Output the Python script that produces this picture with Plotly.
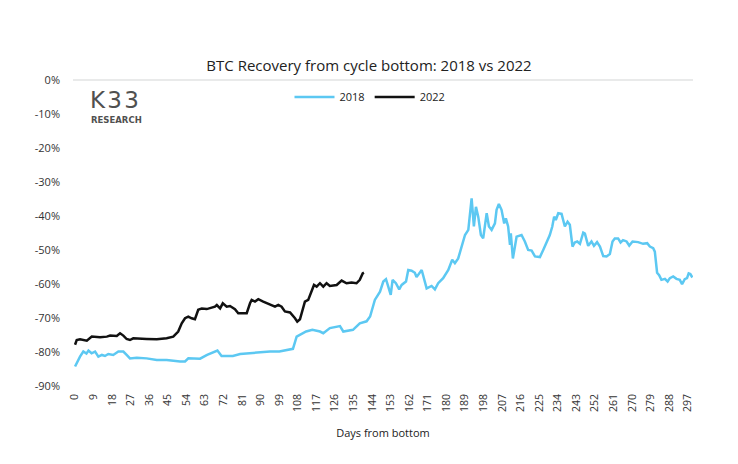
import plotly.graph_objects as go

# ---- data ----
days_2018 = [0, 0.8, 2.4, 4, 5.5, 6.5, 8, 9.7, 11.3, 13, 14.5, 16.1, 18.5, 21, 23.4, 25, 26.6,
             29.9, 34.7, 39.6, 44.4, 50.9, 53.3, 54.9, 60.6, 64, 69, 71, 76.5, 80, 88, 94.5,
             99, 105.6, 107.4, 109, 112, 115, 118.7, 120.3, 123.5, 128.4, 130, 134.7, 138,
             141.3, 143, 145.3, 146.2, 147.8, 149.4, 150.7, 151.8, 153, 153.9, 155.5, 157.1,
             158.3, 160.4, 161.5, 163.1, 164.7, 165.5, 168, 170.4, 172.8, 174.4, 176, 178.4,
             180.9, 182.8, 184.1, 185.7, 187.4, 189, 190.6, 191.4, 192.2, 193.3, 194.3, 195.4,
             196.7, 197.8, 199.5, 200.6, 201.9, 203.5, 204.3, 205.4, 206.7, 208, 208.8, 209.9,
             210.8, 211.2, 212.2, 213.2, 214, 216.4, 218, 219.6, 221.3, 222.9, 225.3, 226.9,
             228.5, 230.1, 231.3, 232.2, 233, 234.2, 235.8, 237.4, 238.7, 239.8, 241.1, 242.2,
             243.4, 244.7, 246.3, 247.1, 248.7, 250.3, 251.5, 253, 254.4, 256, 257.6, 259.2,
             260.5, 261.6, 263.2, 264.4, 265.6, 267.3, 268.6, 270.2, 272.9, 275.3, 277.3,
             278.6, 280.2, 281, 282.1, 283.1, 284.2, 285.9, 287.2, 288.3, 289.9, 291.5, 293.1,
             294.2, 295.5, 296.6, 297.4, 298.2, 299.2]
vals_2018 = [-84.3, -83.3, -81.4, -79.9, -80.5, -79.6, -80.4, -79.9, -81.4, -80.9, -81.2, -80.6,
             -80.9, -79.9, -79.9, -80.9, -81.9, -81.7, -81.9, -82.4, -82.4, -82.8, -82.8, -81.9,
             -82.0, -80.9, -79.6, -81.2, -81.2, -80.6, -80.2, -79.9, -79.9, -79.1, -75.5, -75.0,
             -74.0, -73.5, -74.0, -74.5, -73.0, -72.4, -74.0, -73.5, -71.6, -71.0, -69.6, -64.7,
             -63.7, -62.3, -59.3, -58.6, -60.8, -63.2, -58.8, -59.8, -61.6, -60.3, -59.3, -55.9,
             -56.1, -56.7, -58.0, -55.9, -61.3, -60.6, -61.6, -59.8, -58.3, -55.9, -52.9, -53.9,
             -52.5, -49.0, -45.6, -44.1, -40.2, -34.8, -43.1, -37.3, -40.2, -45.6, -46.6, -39.2,
             -43.1, -44.1, -42.2, -38.2, -36.5, -38.2, -42.2, -40.7, -43.1, -48.5, -45.1, -52.5,
             -49.0, -46.1, -45.6, -47.5, -50.0, -50.2, -51.9, -52.1, -50.0, -47.5, -45.6, -43.1,
             -40.2, -41.2, -39.2, -39.4, -43.1, -41.7, -42.6, -49.0, -47.8, -47.5, -48.2, -44.9,
             -45.2, -48.8, -47.5, -48.8, -47.7, -49.0, -51.8, -51.9, -51.2, -47.5, -46.6, -46.6,
             -47.8, -47.1, -47.5, -48.7, -47.5, -47.7, -48.2, -48.0, -49.0, -49.5, -50.5, -56.7,
             -57.4, -58.8, -58.5, -59.3, -58.3, -57.8, -58.5, -58.8, -60.1, -58.6, -58.3, -56.9,
             -57.1, -58.1]

days_2022 = [0, 0.8, 2.4, 5.7, 8.1, 12.1, 15.4, 17, 20.2, 21.8, 23.4, 25, 26.6, 28.2, 34.7,
             39.6, 44.4, 47.6, 50, 51.7, 53.3, 54.9, 56.5, 58.1, 59.7, 61.4, 63.8, 67.8, 68.7,
             70.3, 71.6, 73.5, 75.1, 77.5, 79.1, 83.2, 84.8, 85.6, 87.2, 88.8, 91.2, 94.5, 96.9,
             98.5, 100.1, 101.7, 104.2, 106.6, 107.7, 109, 110.3, 111.4, 113, 114.7, 115.8,
             117.1, 118.7, 120.3, 121.9, 123.5, 126.8, 129.2, 131.6, 134, 136.4, 138, 139.4, 140]
vals_2022 = [-77.9, -76.5, -76.3, -76.7, -75.5, -75.7, -75.5, -75.2, -75.3, -74.5, -75.2, -76.2,
             -76.5, -76.0, -76.2, -76.3, -76.0, -75.5, -74.0, -71.6, -70.1, -69.6, -70.1, -70.4,
             -67.6, -67.2, -67.4, -66.7, -66.2, -67.2, -65.7, -66.7, -66.5, -67.4, -68.6, -68.6,
             -65.7, -64.7, -65.2, -64.5, -65.2, -66.2, -66.7, -66.2, -66.7, -68.1, -68.4, -70.1,
             -71.1, -70.4, -67.6, -65.2, -64.7, -62.3, -60.3, -60.8, -59.8, -60.8, -59.8, -60.6,
             -60.3, -59.0, -59.8, -59.6, -59.8, -58.8, -56.9, -56.7]

x_ticks = list(range(0, 298, 9))
y_ticks = list(range(-90, 1, 10))
y_tick_labels = [f"{v}%" for v in y_ticks]

FONT = "Open Sans, sans-serif"

L, R, T, B = 73, 45, 80, 73
W, H = 738, 464
PW, PH = W - L - R, H - T - B


def px_x(x):
    return (x - L) / PW


def px_y(y):
    return (H - B - y) / PH


fig = go.Figure()
fig.add_trace(go.Scatter(x=days_2018, y=vals_2018, mode="lines", name="2018",
                         line=dict(color="#5CC8F2", width=2.5)))
fig.add_trace(go.Scatter(x=days_2022, y=vals_2022, mode="lines", name="2022",
                         line=dict(color="#111111", width=2.5)))

fig.update_layout(
    width=W, height=H,
    margin=dict(l=L, r=R, t=T, b=B, autoexpand=False),
    paper_bgcolor="white", plot_bgcolor="white",
    font=dict(family=FONT, color="#333333", size=11),
    title=dict(text="BTC Recovery from cycle bottom: 2018 vs 2022",
               xref="container", x=0.5, xanchor="center",
               yref="container", y=1 - 66 / H, yanchor="middle",
               font=dict(size=15, color="#222222", family=FONT)),
    legend=dict(orientation="h", xref="paper", x=px_x(370), xanchor="center",
                yref="paper", y=px_y(97), yanchor="middle",
                itemwidth=40, font=dict(size=11, color="#222222"),
                bgcolor="rgba(0,0,0,0)"),
    showlegend=True,
)
fig.update_xaxes(range=[-1, 299.5], tickvals=x_ticks, ticktext=[str(v) for v in x_ticks],
                 tickangle=-90, showgrid=False, zeroline=False, showline=False,
                 ticks="", tickfont=dict(size=10.5, color="#333333"),
                 title=dict(text="Days from bottom", font=dict(size=11, color="#222222"),
                            standoff=18))
fig.update_yaxes(range=[-91.5, 0], tickvals=y_ticks, ticktext=y_tick_labels,
                 showgrid=False, zeroline=True, zerolinecolor="#e9eaea", zerolinewidth=2,
                 showline=False, ticks="", ticklabelstandoff=12,
                 tickfont=dict(size=11, color="#333333"))

# K33 Research logo
fig.add_annotation(text="K\u200a3\u200a3", xref="paper", yref="paper", x=px_x(89),
                   y=px_y(114), xanchor="left", yanchor="bottom", showarrow=False,
                   borderpad=0,
                   font=dict(size=23, color="#505050", family="DejaVu Sans, sans-serif"))
fig.add_annotation(text="<b>RESEARCH</b>", xref="paper", yref="paper", x=px_x(90),
                   y=px_y(114), xanchor="left", yanchor="top", showarrow=False,
                   borderpad=0,
                   font=dict(size=8.5, color="#505050", family="DejaVu Sans, sans-serif"))

fig.write_html("out.html", config={"displayModeBar": False},
               post_script="document.body.style.margin='0';")
